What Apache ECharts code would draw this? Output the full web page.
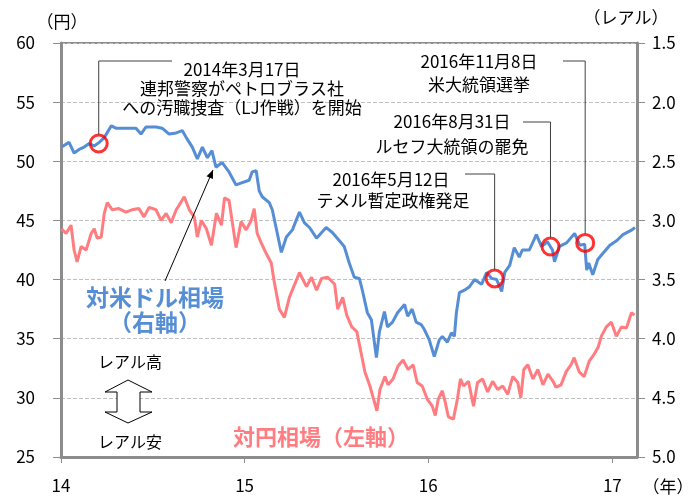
<!DOCTYPE html>
<html lang="ja">
<head>
<meta charset="UTF-8">
<title>ブラジルレアル相場</title>
<style>
html, body { margin: 0; padding: 0; background: #fff; }
#main { width: 700px; height: 497px; }
</style>
</head>
<body>
<div id="main"></div>
<script src="https://cdn.jsdelivr.net/npm/echarts@6/dist/echarts.min.js"></script>
<script>
// 対米ドル相場（右軸, レアル/ドル）
var usdDates = ['2014-01-02','2014-01-17','2014-01-27','2014-02-06','2014-02-16','2014-02-26','2014-03-08','2014-03-18','2014-03-28','2014-04-11',
  '2014-04-20','2014-05-10','2014-05-30','2014-06-09','2014-06-19','2014-07-09','2014-07-21','2014-08-04','2014-08-18','2014-08-30',
  '2014-09-07','2014-09-19','2014-09-29','2014-10-09','2014-10-19','2014-10-28','2014-11-05','2014-11-17','2014-12-01','2014-12-15',
  '2014-12-27','2015-01-10','2015-01-16','2015-01-24','2015-01-30','2015-02-05','2015-02-19','2015-02-25','2015-03-07','2015-03-15',
  '2015-03-25','2015-04-06','2015-04-20','2015-04-30','2015-05-10','2015-05-24','2015-06-12','2015-06-24','2015-07-08','2015-07-18',
  '2015-07-28','2015-08-07','2015-08-17','2015-08-23','2015-09-02','2015-09-10','2015-09-20','2015-09-26','2015-10-06','2015-10-12',
  '2015-10-22','2015-11-01','2015-11-15','2015-11-21','2015-11-30','2015-12-08','2015-12-18','2015-12-24','2016-01-03','2016-01-13',
  '2016-01-23','2016-01-29','2016-02-08','2016-02-16','2016-02-22','2016-02-26','2016-03-03','2016-03-13','2016-03-23','2016-04-02',
  '2016-04-16','2016-04-26','2016-05-06','2016-05-16','2016-05-26','2016-06-01','2016-06-11','2016-06-20','2016-06-30','2016-07-06',
  '2016-07-20','2016-08-03','2016-08-13','2016-08-25','2016-09-04','2016-09-08','2016-09-18','2016-10-02','2016-10-18','2016-10-28',
  '2016-11-07','2016-11-11','2016-11-15','2016-11-23','2016-12-03','2016-12-13','2016-12-27','2017-01-10','2017-01-22','2017-02-09',
  '2017-02-15'];
var usdRates = [2.38,2.34,2.43,2.40,2.38,2.35,2.37,2.34,2.30,2.20,
  2.22,2.22,2.22,2.27,2.21,2.21,2.22,2.27,2.26,2.24,
  2.30,2.38,2.48,2.38,2.47,2.41,2.55,2.51,2.59,2.70,
  2.68,2.66,2.59,2.58,2.75,2.80,2.85,2.91,3.11,3.27,
  3.14,3.08,2.93,3.02,3.06,3.15,3.06,3.10,3.17,3.22,
  3.36,3.48,3.49,3.59,3.78,3.84,4.16,3.94,3.77,3.90,
  3.86,3.78,3.71,3.81,3.75,3.86,3.88,3.92,4.01,4.15,
  4.01,3.98,4.03,3.95,3.98,3.78,3.61,3.59,3.56,3.50,
  3.54,3.44,3.49,3.50,3.60,3.44,3.38,3.23,3.31,3.25,
  3.25,3.12,3.22,3.18,3.25,3.35,3.22,3.19,3.11,3.21,
  3.20,3.42,3.36,3.46,3.33,3.28,3.21,3.17,3.12,3.08,
  3.06];

// 対円相場（左軸, 円/レアル）
var jpyDates = ['2014-01-02','2014-01-11','2014-01-21','2014-01-27','2014-02-02','2014-02-10','2014-02-20','2014-03-02','2014-03-08','2014-03-14',
  '2014-03-22','2014-03-28','2014-04-03','2014-04-13','2014-04-26','2014-05-10','2014-05-22','2014-06-05','2014-06-15','2014-06-25',
  '2014-07-09','2014-07-19','2014-07-29','2014-08-08','2014-08-18','2014-08-24','2014-09-03','2014-09-13','2014-09-23','2014-09-29',
  '2014-10-07','2014-10-17','2014-10-27','2014-11-06','2014-11-16','2014-11-22','2014-12-01','2014-12-07','2014-12-15','2014-12-25',
  '2015-01-04','2015-01-14','2015-01-20','2015-01-26','2015-02-03','2015-02-13','2015-02-23','2015-03-01','2015-03-11','2015-03-21',
  '2015-03-31','2015-04-20','2015-05-04','2015-05-14','2015-05-24','2015-06-03','2015-06-15','2015-06-29','2015-07-05','2015-07-15',
  '2015-07-23','2015-08-02','2015-08-12','2015-08-22','2015-08-28','2015-09-07','2015-09-21','2015-09-27','2015-10-07','2015-10-13',
  '2015-10-23','2015-11-02','2015-11-12','2015-11-22','2015-12-02','2015-12-10','2015-12-20','2015-12-30','2016-01-09','2016-01-15',
  '2016-01-21','2016-01-29','2016-02-04','2016-02-10','2016-02-20','2016-02-28','2016-03-05','2016-03-11','2016-03-21','2016-03-31',
  '2016-04-08','2016-04-18','2016-04-28','2016-05-08','2016-05-18','2016-05-28','2016-06-07','2016-06-17','2016-06-27','2016-07-03',
  '2016-07-09','2016-07-17','2016-07-27','2016-08-06','2016-08-16','2016-08-26','2016-09-05','2016-09-11','2016-09-21','2016-10-01',
  '2016-10-11','2016-10-17','2016-10-27','2016-11-06','2016-11-16','2016-11-26','2016-12-04','2016-12-10','2016-12-20','2016-12-30',
  '2017-01-09','2017-01-19','2017-01-29','2017-02-08','2017-02-14'];
var jpyRates = [44.3,43.9,44.6,42.5,41.5,42.8,42.5,43.9,44.3,43.5,
  43.6,45.6,46.5,45.9,46.0,45.7,45.9,46.0,45.3,46.1,
  45.9,45.0,45.6,44.8,45.9,46.3,47.0,45.9,45.3,43.6,
  45.0,44.3,42.9,45.6,44.6,46.9,46.7,45.0,42.7,44.9,
  44.2,45.0,46.0,43.9,43.1,42.2,41.4,39.8,37.5,36.8,
  38.5,40.6,39.4,40.2,39.1,40.1,40.2,39.6,37.5,38.5,
  37.0,36.0,35.6,33.5,32.2,31.0,28.9,30.7,31.8,31.1,
  31.6,32.7,33.2,32.4,32.8,31.3,31.0,29.9,29.3,28.5,
  29.9,30.6,29.6,28.4,28.2,29.9,31.6,31.0,31.4,29.3,
  31.3,31.6,30.5,31.4,30.7,31.0,30.3,31.8,31.3,30.0,
  32.4,32.8,31.6,32.4,31.1,32.0,31.4,30.9,31.1,32.2,
  32.8,33.4,32.2,31.8,33.1,33.7,34.3,35.2,36.0,36.4,
  35.2,36.0,35.9,37.2,37.0];

// 出来事（対米ドル相場上の丸印）
var eventDates = ['2014-03-17','2016-05-12','2016-08-31','2016-11-08'];
var eventRates = [2.35,3.49,3.22,3.19];

var yearTicks = [2014, 2015, 2016, 2017];
var yenTicks = [25, 60, 5];      // min, max, interval
var realTicks = [1.5, 5.0, 0.5];

var FONT = '"Noto Sans CJK JP", "Noto Sans", sans-serif';
var BLUE = '#558ED5';
var RED = '#FF7C80';

function toTime(s) { return new Date(s + 'T00:00:00Z').getTime(); }
function pairs(ds, vs) { return ds.map(function (d, i) { return [toTime(d), vs[i]]; }); }

var yearValues = yearTicks.map(function (y) { return Date.UTC(y, 0, 1); });

var chart = echarts.init(document.getElementById('main'));
var option = {
  animation: false,
  grid: { left: 61, right: 63, top: 43, bottom: 40, show: true, borderColor: '#8c8c8c', borderWidth: 2 },
  xAxis: {
    type: 'value',
    min: Date.UTC(2014, 0, 1),
    max: Date.UTC(2017, 1, 19),
    splitLine: { show: false },
    axisLine: { lineStyle: { color: '#8c8c8c', width: 3 } },
    axisTick: { customValues: yearValues, length: 6, lineStyle: { color: '#8c8c8c', width: 1 } },
    axisLabel: {
      customValues: yearValues, margin: 20, color: '#000', fontSize: 17, fontFamily: FONT,
      formatter: function (v) { return String(new Date(v).getUTCFullYear()).slice(2); }
    }
  },
  yAxis: [{
    type: 'value', min: yenTicks[0], max: yenTicks[1], interval: yenTicks[2],
    axisLine: { show: true, lineStyle: { color: '#8c8c8c', width: 3 } },
    axisTick: { show: true, length: 8, lineStyle: { color: '#8c8c8c' } },
    axisLabel: { margin: 26, color: '#000', fontSize: 17, fontFamily: FONT },
    splitLine: { lineStyle: { color: '#bfbfbf', type: 'dashed', width: 1 } }
  }, {
    type: 'value', position: 'right', inverse: true,
    min: realTicks[0], max: realTicks[1], interval: realTicks[2],
    axisLine: { show: true, lineStyle: { color: '#8c8c8c', width: 3 } },
    axisTick: { show: true, length: 8, lineStyle: { color: '#8c8c8c' } },
    axisLabel: { margin: 15, color: '#000', fontSize: 17, fontFamily: FONT,
      formatter: function (v) { return v.toFixed(1); } },
    splitLine: { show: false }
  }],
  series: [{
    name: '対円相場', type: 'line', yAxisIndex: 0, data: pairs(jpyDates, jpyRates),
    showSymbol: false, lineStyle: { color: RED, width: 3 }, itemStyle: { color: RED }, z: 2
  }, {
    name: '対米ドル相場', type: 'line', yAxisIndex: 1, data: pairs(usdDates, usdRates),
    showSymbol: false, lineStyle: { color: BLUE, width: 3 }, itemStyle: { color: BLUE }, z: 3
  }, {
    name: '出来事', type: 'scatter', yAxisIndex: 1, data: pairs(eventDates, eventRates),
    symbol: 'circle', symbolSize: 17,
    itemStyle: { color: 'rgba(0,0,0,0)', borderColor: '#ff0000', borderWidth: 3 }, z: 5
  }]
};
chart.setOption(option);

// 注記
function txt(s, x, y, size, color, bold) {
  return { type: 'text', z: 10, style: { text: s, x: x, y: y, textAlign: 'center', textVerticalAlign: 'middle',
    fill: color || '#000', font: (bold ? 'bold ' : '') + size + 'px ' + FONT } };
}
function poly(points, color, width) {
  return { type: 'polyline', z: 9, shape: { points: points }, style: { stroke: color || '#404040', lineWidth: width || 1, fill: null } };
}

var ev = eventDates.map(function (d, i) { return chart.convertToPixel({ seriesIndex: 2 }, [toTime(d), eventRates[i]]); });
var r = 9;
var els = [
  txt('（円）', 62, 22, 17), txt('（レアル）', 626, 18, 17), txt('（年）', 668, 487, 17),
  txt('2014年3月17日', 242, 70, 17), txt('連邦警察がペトロブラス社', 242, 89, 17), txt('への汚職捜査（LJ作戦）を開始', 242, 108, 17),
  txt('2016年11月8日', 479, 62, 17), txt('米大統領選挙', 479, 85, 17),
  txt('2016年8月31日', 452, 122, 17), txt('ルセフ大統領の罷免', 452, 147, 17),
  txt('2016年5月12日', 391, 180, 17), txt('テメル暫定政権発足', 393, 201, 17),
  txt('対米ドル相場', 155, 297, 23, BLUE, true), txt('（右軸）', 155, 322, 23, BLUE, true),
  txt('対円相場（左軸）', 321, 437, 22, RED, true),
  txt('レアル高', 130, 362, 16), txt('レアル安', 130, 442, 16),
  poly([[172, 61], [ev[0][0], 61], [ev[0][0], ev[0][1] - r]]),
  poly([[563, 61], [ev[3][0], 61], [ev[3][0], ev[3][1] - r]]),
  poly([[523, 122], [ev[2][0], 122], [ev[2][0], ev[2][1] - r]]),
  poly([[465, 174], [ev[1][0], 174], [ev[1][0], ev[1][1] - r]]),
  { type: 'polygon', z: 9, shape: { points: [[128, 380], [152, 392], [140, 392], [140, 412], [152, 412], [128, 423],
      [105, 412], [117, 412], [117, 392], [105, 392]] }, style: { fill: '#fff', stroke: '#000', lineWidth: 1 } }
];

// 対米ドル相場ラベルから線への矢印
var a0 = [165, 281], a1 = [213, 170];
var ang = Math.atan2(a1[1] - a0[1], a1[0] - a0[0]);
var hl = 9, hw = 0.4;
els.push(poly([a0, a1], '#000', 1));
els.push({ type: 'polygon', z: 9, shape: { points: [a1,
  [a1[0] - hl * Math.cos(ang - hw), a1[1] - hl * Math.sin(ang - hw)],
  [a1[0] - hl * Math.cos(ang + hw), a1[1] - hl * Math.sin(ang + hw)]] }, style: { fill: '#000' } });

chart.setOption({ graphic: { elements: els } });
</script>
</body>
</html>
